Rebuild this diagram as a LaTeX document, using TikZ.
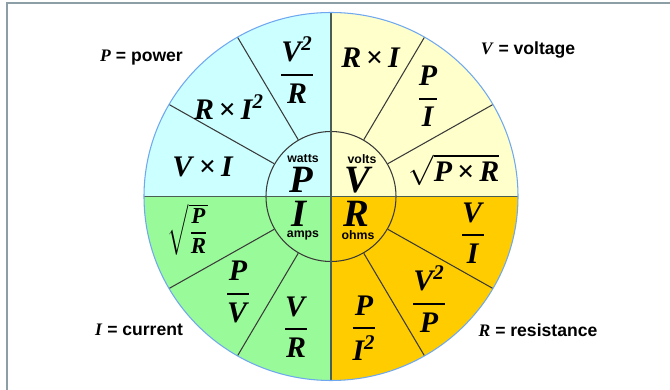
\documentclass[tikz,border=0pt]{standalone}
\usepackage{amsmath}
\usepackage{fontspec}
\setmainfont{Liberation Serif}
\setsansfont{Liberation Sans}
\usetikzlibrary{positioning}
\definecolor{wattfill}{HTML}{CCFFFF}
\definecolor{voltfill}{HTML}{FFFFCC}
\definecolor{ampfill}{HTML}{99FA99}
\definecolor{ohmfill}{HTML}{FFCC00}
\definecolor{rimblue}{HTML}{6FA8F0}
\definecolor{axisgray}{HTML}{4B5E55}
\definecolor{spokegray}{HTML}{3A3A3A}
\definecolor{framegray}{HTML}{8C9EA6}
\newcommand{\bi}[1]{\textbf{\textit{#1}}}
\newcommand{\bfr}[2]{$\genfrac{}{}{1.1pt}{0}{\hbox{\bi{#1}}}{\hbox{\bi{#2}}}$}
\newcommand{\tms}{\,\textbf{×}\,}
\tikzset{
  frm/.style={font=\fontsize{17}{19}\selectfont, inner sep=0pt},
  big/.style={font=\fontsize{22}{24}\selectfont, inner sep=0pt},
  unitlbl/.style={font=\sffamily\bfseries\fontsize{7}{8}\selectfont, inner sep=0pt},
  key/.style={font=\sffamily\bfseries\fontsize{10}{12}\selectfont, inner sep=0pt},
  spoke/.style={draw=spokegray, line width=.6pt},
  axis/.style={draw=axisgray, line width=1.1pt},
}

\begin{document}
\begin{tikzpicture}
        \useasboundingbox (-6.62,-3.87) rectangle (6.78,3.93);
        \draw[framegray, line width=1.2pt] (6.78,3.87) -- (-6.48,3.87) -- (-6.48,-3.87);
        % the four quarters
        \fill[wattfill] (0,0) -- (90:3.74 and 3.68) arc[start angle=90, end angle=180, x radius=3.74, y radius=3.68] -- cycle;
        \fill[voltfill] (0,0) -- (0:3.74 and 3.68) arc[start angle=0, end angle=90, x radius=3.74, y radius=3.68] -- cycle;
        \fill[ampfill] (0,0) -- (180:3.74 and 3.68) arc[start angle=180, end angle=270, x radius=3.74, y radius=3.68] -- cycle;
        \fill[ohmfill] (0,0) -- (270:3.74 and 3.68) arc[start angle=270, end angle=360, x radius=3.74, y radius=3.68] -- cycle;
        \node[draw=spokegray, circle, minimum size=2.6cm, inner sep=0pt, line width=.6pt] (hub) at (0,0) {};
        \draw[spoke] (hub.30) -- (30:3.74 and 3.68) (hub.60) -- (60:3.74 and 3.68)
                     (hub.120) -- (120:3.74 and 3.68) (hub.150) -- (150:3.74 and 3.68)
                     (hub.210) -- (210:3.74 and 3.68) (hub.240) -- (240:3.74 and 3.68)
                     (hub.300) -- (300:3.74 and 3.68) (hub.330) -- (330:3.74 and 3.68);
        \draw[axis] (0,3.68) -- (0,-3.68);
        \draw[axis] (-3.74,0) -- (3.74,0);
        \draw[rimblue, line width=.6pt] (0,0) ellipse [x radius=3.74, y radius=3.68];
        % centre
        \node[unitlbl] (watts) at (-0.56,0.75) {watts};
        \node[big] (p) at (-0.60,0.33) {\bi{P}};
        \node[unitlbl] (volts) at (0.62,0.75) {volts};
        \node[big] (v) at (0.56,0.33) {\bi{V}};
        \node[big] (i) at (-0.62,-0.34) {\bi{I}};
        \node[unitlbl] (amps) at (-0.56,-0.77) {amps};
        \node[big] (r) at (0.50,-0.34) {\bi{R}};
        \node[unitlbl] (ohms) at (0.54,-0.77) {ohms};
        % power
        \node[frm] (p1) at (-0.68,2.53) {\bfr{V\textsuperscript{2}}{R}};
        \node[frm] (p2) at (-2.04,1.79) {\bi{R}\tms\bi{I\textsuperscript{2}}};
        \node[frm] (p3) at (-2.56,0.59) {\bi{V}\tms\bi{I}};
        % voltage
        \node[frm] (v1) at (0.80,2.77) {\bi{R}\tms\bi{I}};
        \node[frm] (v2) at (1.94,2.00) {\bfr{P}{I}};
        \node[frm] (v3) at (2.46,0.53) {$\sqrt{\hbox{\bi{P}\tms\bi{R}}}$};
        % current
        \node[frm, font=\fontsize{13}{15}\selectfont] (i1) at (-2.86,-0.67) {$\sqrt{\genfrac{}{}{1pt}{0}{\hbox{\bi{P}}}{\hbox{\bi{R}}}}$};
        \node[frm] (i2) at (-1.86,-1.91) {\bfr{P}{V}};
        \node[frm] (i3) at (-0.70,-2.61) {\bfr{V}{R}};
        % resistance
        \node[frm] (r1) at (2.84,-0.73) {\bfr{V}{I}};
        \node[frm] (r2) at (1.96,-2.05) {\bfr{V\textsuperscript{2}}{P}};
        \node[frm] (r3) at (0.66,-2.63) {\bfr{P}{I\textsuperscript{2}}};
        % legend
        \node[key] (kp) at (-3.79,2.77) {{\rmfamily\bi{P}} = power};
        \node[key] (kv) at (3.94,2.93) {{\rmfamily\bi{V}} = voltage};
        \node[key] (ki) at (-3.84,-2.67) {{\rmfamily\bi{I}} = current};
        \node[key] (kr) at (4.14,-2.67) {{\rmfamily\bi{R}} = resistance};
      \end{tikzpicture}
\end{document}
